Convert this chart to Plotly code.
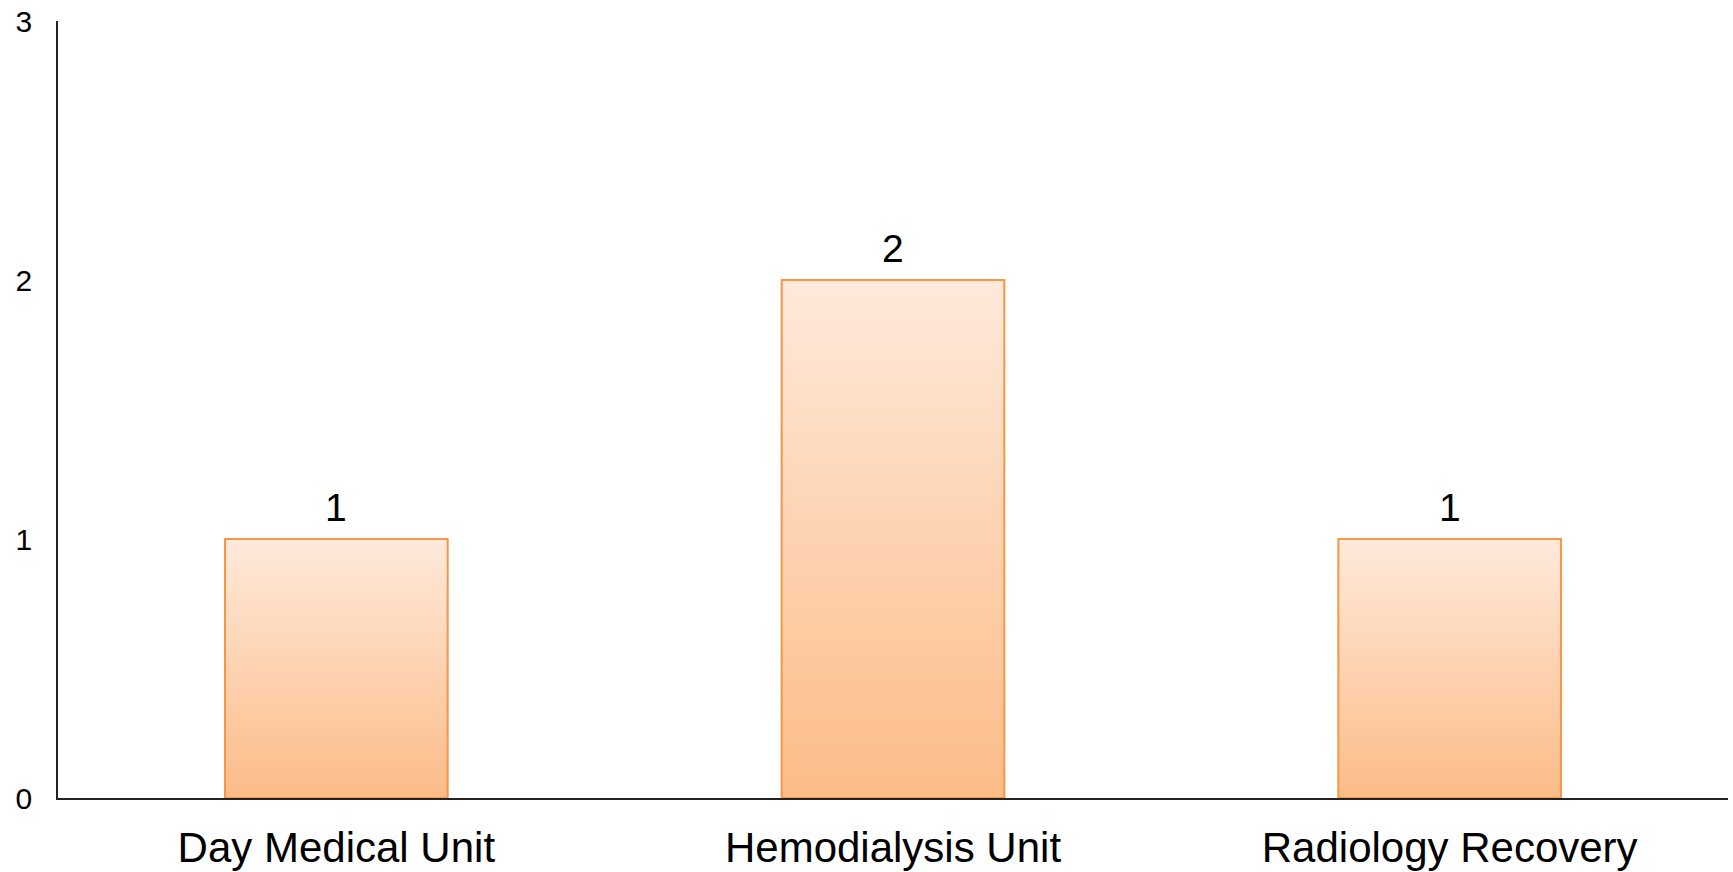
import plotly.graph_objects as go

units = ["Day Medical Unit", "Hemodialysis Unit", "Radiology Recovery"]
counts = [1, 2, 1]
y_ticks = [0, 1, 2, 3]

# Farbverlauf oben hell -> unten dunkler
top_rgb = (254, 233, 218)
bottom_rgb = (252, 188, 136)
steps = 60

fig = go.Figure()

# Verlauf: übereinander gelegte Balken mit abnehmender Höhe
for k in range(steps):
    frac = 1 - k / steps
    t = k / (steps - 1)
    r, g, b = [round(a + (c - a) * t) for a, c in zip(top_rgb, bottom_rgb)]
    fig.add_trace(go.Bar(
        x=units,
        y=[v * frac for v in counts],
        marker=dict(color=f"rgb({r},{g},{b})", line=dict(width=0)),
        hoverinfo="skip",
        showlegend=False,
    ))

# Rahmen
fig.add_trace(go.Bar(
    x=units,
    y=counts,
    marker=dict(color="rgba(0,0,0,0)", line=dict(color="#F79646", width=2)),
    showlegend=False,
))

# Werte über den Balken
for u, v in zip(units, counts):
    fig.add_annotation(
        x=u, y=v, text=str(v),
        showarrow=False, yanchor="bottom", yshift=8,
        font=dict(size=39, color="black"),
    )

fig.update_layout(
    barmode="overlay",
    bargap=0.6,
    width=1733,
    height=872,
    margin=dict(l=58, r=5, t=21, b=74),
    plot_bgcolor="white",
    paper_bgcolor="white",
    font=dict(family="Liberation Sans, Arial", color="black"),
    xaxis=dict(
        showline=True, linecolor="#222", linewidth=1.5,
        showgrid=False, ticks="", automargin=False,
        tickfont=dict(size=42),
        ticklabelstandoff=12,
    ),
    yaxis=dict(
        range=[0, 3], tickvals=y_ticks,
        showline=True, linecolor="#222", linewidth=1.5,
        showgrid=False, zeroline=False, ticks="", automargin=False,
        tickfont=dict(size=30),
        ticklabelstandoff=18,
    ),
)

# Body-Rand entfernen, damit die Grafik genau das Fenster füllt
fig.write_html(
    "out.html",
    config={"displayModeBar": False},
    post_script="document.body.style.margin='0';",
)
